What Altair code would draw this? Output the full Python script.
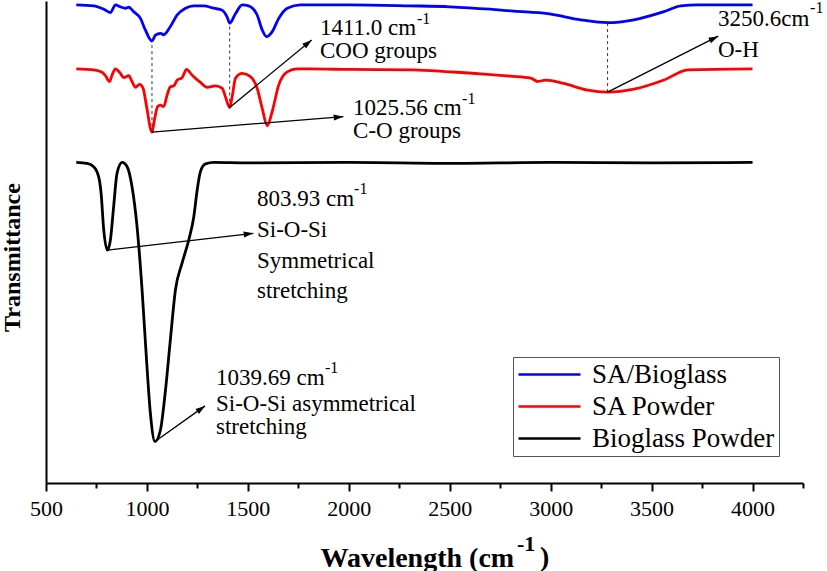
import math
import altair as alt
import pandas as pd

# FTIR spectra (wavenumber in cm^-1, transmittance in arbitrary stacked units)
blue_wn = [650, 736, 786, 819, 844, 868, 893, 910, 934, 968, 992, 1025, 1042, 1067, 1083,
           1116, 1150, 1191, 1232, 1281, 1331, 1373, 1397, 1410, 1439, 1472, 1504, 1546,
           1571, 1592, 1620, 1653, 1695, 1761, 1825, 2000, 2300, 2500, 2700, 2817, 2985,
           3149, 3282, 3412, 3561, 3645, 3730, 4000]
blue_T = [99.2, 99.0, 98.3, 97.6, 99.2, 98.8, 98.5, 98.7, 97.8, 96.4, 94.0, 91.7, 92.9, 93.3,
          93.0, 94.7, 97.1, 98.5, 99.0, 99.0, 98.5, 98.1, 96.7, 95.4, 97.4, 99.2, 99.0, 97.1,
          94.0, 92.6, 93.6, 96.4, 98.5, 99.2, 99.2, 99.2, 99.0, 98.8, 98.3, 97.9, 97.4, 96.1,
          95.5, 96.1, 97.8, 99.0, 99.2, 99.2]

red_wn = [650, 736, 778, 794, 815, 827, 844, 868, 885, 910, 926, 943, 964, 981, 997, 1025,
          1037, 1053, 1067, 1083, 1100, 1116, 1133, 1150, 1174, 1196, 1224, 1265, 1298, 1339,
          1373, 1389, 1410, 1422, 1439, 1472, 1513, 1546, 1571, 1596, 1620, 1653, 1695, 1744,
          1810, 2000, 2321, 2500, 2653, 2800, 2901, 2936, 2976, 3065, 3184, 3282, 3412, 3561,
          3680, 4000]
red_T = [85.9, 85.7, 85.2, 84.5, 83.3, 84.6, 85.9, 85.0, 84.1, 84.5, 83.3, 82.1, 82.7, 81.9,
         78.4, 72.8, 75.3, 78.1, 78.4, 78.1, 80.5, 82.2, 82.4, 83.6, 84.1, 85.8, 84.6, 83.1,
         82.1, 82.4, 81.9, 80.1, 77.9, 80.1, 84.0, 85.0, 84.3, 81.9, 77.7, 74.1, 77.0, 82.6,
         85.3, 85.9, 85.9, 85.8, 85.7, 85.3, 84.9, 84.4, 84.0, 83.3, 83.6, 82.9, 81.5, 81.1,
         81.7, 83.6, 85.7, 85.9]

black_wn = [650, 703, 736, 761, 773, 786, 804, 819, 835, 852, 877, 902, 926, 951, 976, 997,
            1017, 1040, 1067, 1092, 1116, 1141, 1174, 1207, 1232, 1249, 1265, 1290, 1331,
            1500, 2000, 2500, 3000, 3500, 4000]
black_T = [66.5, 66.3, 65.6, 63.5, 60.1, 52.5, 48.3, 50.4, 57.3, 64.3, 66.5, 65.6, 61.5, 53.2,
           40.0, 26.2, 14.5, 8.6, 11.0, 19.3, 29.7, 40.0, 45.6, 50.4, 55.2, 60.8, 64.6, 66.2,
           66.5, 66.4, 66.5, 66.3, 66.5, 66.4, 66.5]

series_names = ["SA/Bioglass", "SA Powder", "Bioglass Powder"]
series_colors = ["#0000ff", "#ff0000", "#000000"]

# dashed guides linking the shared bands of the two SA spectra
guide_wn = [1025, 1410, 3282]
guide_low = [72.8, 77.9, 81.1]
guide_high = [91.7, 95.4, 95.5]

# annotation arrows: from a band minimum to its label
arrow_x = [1410, 1025, 3282, 804, 1040]
arrow_y = [77.9, 72.8, 81.1, 48.3, 8.6]
arrow_x2 = [1816, 1973, 3830, 1527, 1288]
arrow_y2 = [91.9, 76.0, 92.7, 51.8, 16.0]

label_text = ["1411.0 cm", "COO groups", "1025.56 cm", "C-O groups", "3250.6cm", "O-H",
              "803.93 cm", "Si-O-Si", "Symmetrical", "stretching",
              "1039.69 cm", "Si-O-Si asymmetrical", "stretching"]
label_wn = [1857, 1857, 2021, 2021, 3829, 3829, 1545, 1545, 1545, 1545, 1342, 1342, 1342]
label_T = [92.9, 88.2, 76.3, 71.6, 94.8, 88.4, 57.5, 51.0, 44.6, 38.4, 20.3, 14.9, 10.2]

sup_text = ["-1", "-1", "-1", "-1", "-1"]
sup_wn = [2338, 2561, 4285, 2026, 1882]
sup_T = [95.2, 78.6, 97.5, 60.0, 22.8]

X_DOMAIN = [500, 4250]
Y_DOMAIN = [0, 100]
W, H = 757, 482
FONT = "Liberation Serif"

spectra = pd.concat([
    pd.DataFrame({"series": series_names[0], "wn": blue_wn, "T": blue_T}),
    pd.DataFrame({"series": series_names[1], "wn": red_wn, "T": red_T}),
    pd.DataFrame({"series": series_names[2], "wn": black_wn, "T": black_T}),
], ignore_index=True)

guides = pd.DataFrame({"wn": guide_wn, "lo": guide_low, "hi": guide_high})

px_per_x = W / (X_DOMAIN[1] - X_DOMAIN[0])
px_per_y = H / (Y_DOMAIN[1] - Y_DOMAIN[0])
angles = []
for x0, y0, x1, y1 in zip(arrow_x, arrow_y, arrow_x2, arrow_y2):
    dx = (x1 - x0) * px_per_x
    dy = (y1 - y0) * px_per_y
    angles.append(math.degrees(math.atan2(dx, dy)) % 360)
arrows = pd.DataFrame({"x": arrow_x, "y": arrow_y, "x2": arrow_x2, "y2": arrow_y2, "ang": angles})

labels = pd.DataFrame({"text": label_text, "wn": label_wn, "T": label_T})
sups = pd.DataFrame({"text": sup_text, "wn": sup_wn, "T": sup_T})

xscale = alt.Scale(domain=X_DOMAIN, nice=False, zero=False)
yscale = alt.Scale(domain=Y_DOMAIN, nice=False, zero=False)

x_axis = alt.Axis(
    values=list(range(500, 4251, 250)),
    format="d",
    labelExpr="datum.value % 500 === 0 && datum.value <= 4000 ? datum.label : ''",
    tickSize={"condition": {"test": "datum.value % 500 === 0", "value": 8}, "value": 5},
    tickWidth=2, tickColor="black",
    domainWidth=2, domainColor="black",
    grid=False,
    labelFont=FONT, labelFontSize=22, labelColor="black",
    labelBaseline="alphabetic", labelPadding=24, labelFlush=False,
    title="Wavelength (cm", titleFont=FONT, titleFontSize=28, titleFontWeight="bold",
    titleColor="black", titleAlign="left", titleBaseline="alphabetic",
    titleX=274, titleY=83,
)
y_axis = alt.Axis(
    ticks=False, labels=False, grid=False,
    domainWidth=2, domainColor="black",
    title="Transmittance", titleFont=FONT, titleFontSize=24, titleFontWeight="bold",
    titleColor="black", titleAngle=270, titleAlign="center", titleBaseline="middle",
    titleX=-34, titleY=256,
)

lines = alt.Chart(spectra).mark_line(strokeWidth=2.8, interpolate="monotone").encode(
    x=alt.X("wn:Q", scale=xscale, axis=x_axis),
    y=alt.Y("T:Q", scale=yscale, axis=y_axis),
    color=alt.Color(
        "series:N",
        scale=alt.Scale(domain=series_names, range=series_colors),
        sort=series_names,
        legend=alt.Legend(
            title=None, orient="none", legendX=467, legendY=356,
            symbolType="stroke", symbolSize=3844, symbolStrokeWidth=2.5,
            clipHeight=27, labelOffset=10, rowPadding=4, padding=4,
            labelFont=FONT, labelFontSize=27, labelColor="black", labelLimit=400,
            strokeColor="#555555", fillColor="white",
        ),
    ),
    detail="series:N",
)

guide_rules = alt.Chart(guides).mark_rule(color="#333333", strokeWidth=1, strokeDash=[3, 3]).encode(
    x=alt.X("wn:Q", scale=xscale), y=alt.Y("lo:Q", scale=yscale), y2="hi:Q"
)

arrow_lines = alt.Chart(arrows).mark_rule(color="black", strokeWidth=1.3).encode(
    x=alt.X("x:Q", scale=xscale), y=alt.Y("y:Q", scale=yscale), x2="x2:Q", y2="y2:Q"
)

arrow_heads = alt.Chart(arrows).mark_point(
    shape="M0,0L-0.75,2.4L0.75,2.4Z", filled=True, fill="black", strokeWidth=0,
    size=64, opacity=1,
).encode(
    x=alt.X("x2:Q", scale=xscale), y=alt.Y("y2:Q", scale=yscale),
    angle=alt.Angle("ang:Q", scale=None),
)

label_marks = alt.Chart(labels).mark_text(
    font=FONT, fontSize=23, align="left", baseline="alphabetic", color="black"
).encode(x=alt.X("wn:Q", scale=xscale), y=alt.Y("T:Q", scale=yscale), text="text:N")

sup_marks = alt.Chart(sups).mark_text(
    font=FONT, fontSize=16, align="left", baseline="alphabetic", color="black"
).encode(x=alt.X("wn:Q", scale=xscale), y=alt.Y("T:Q", scale=yscale), text="text:N")

# superscript and closing bracket of the x-axis title
one_row = alt.Data(values=[{}])
title_sup = alt.Chart(one_row).mark_text(
    font=FONT, fontSize=22, fontWeight="bold", align="left", baseline="alphabetic", color="black"
).encode(x=alt.value(471), y=alt.value(550), text=alt.value("-1"))
title_close = alt.Chart(one_row).mark_text(
    font=FONT, fontSize=28, fontWeight="bold", align="left", baseline="alphabetic", color="black"
).encode(x=alt.value(494), y=alt.value(565), text=alt.value(")"))

chart = alt.layer(
    lines, guide_rules, arrow_lines, arrow_heads, label_marks, sup_marks, title_sup, title_close
).properties(
    width=W, height=H,
    autosize=alt.AutoSizeParams(type="none"),
    padding={"left": 46, "top": 1, "right": 24, "bottom": 88},
    background="white",
).configure(font=FONT).configure_view(stroke=None)

chart.save("out.html", embed_options={"renderer": "svg", "actions": False})
